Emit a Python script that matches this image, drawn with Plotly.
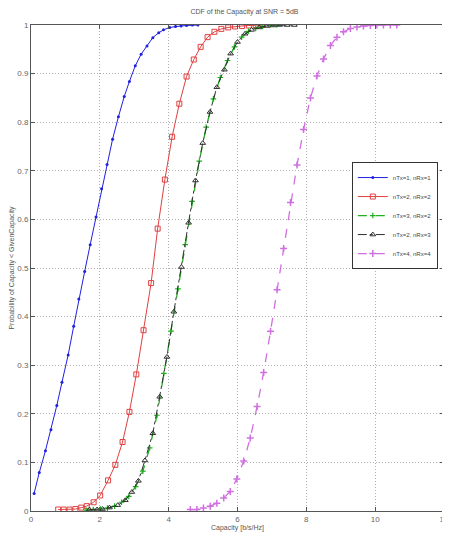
import plotly.graph_objects as go

# Series 1: nTx=1, nRx=1
x1 = [0.09,0.24,0.42,0.58,0.75,0.90,1.08,1.24,1.39,1.56,1.72,1.89,2.05,2.21,2.37,2.54,2.71,2.86,3.03,3.20,3.37,3.54,3.71,3.85,4.03,4.20,4.36,4.52,4.69,4.85]
y1 = [0.036,0.079,0.124,0.167,0.217,0.265,0.321,0.380,0.436,0.493,0.548,0.605,0.663,0.713,0.765,0.811,0.853,0.884,0.916,0.940,0.957,0.974,0.984,0.990,0.995,0.997,0.998,0.999,1.0,1.0]

# Series 2: nTx=2, nRx=2
x2 = [0.79,0.95,1.12,1.29,1.46,1.62,1.82,2.01,2.24,2.45,2.66,2.86,3.06,3.27,3.49,3.68,3.89,4.10,4.31,4.52,4.73,4.93,5.13,5.33,5.53,5.73,5.93,6.13,6.33,6.53,6.73]
y2 = [0.003,0.003,0.003,0.004,0.007,0.010,0.018,0.032,0.063,0.095,0.142,0.204,0.281,0.372,0.469,0.581,0.682,0.770,0.838,0.894,0.929,0.955,0.975,0.986,0.992,0.995,0.997,0.998,0.999,1.0,1.0]

# Series 3: nTx=3, nRx=2
x3 = [1.60,1.81,2.02,2.22,2.43,2.63,2.84,3.04,3.25,3.45,3.66,3.86,4.07,4.27,4.48,4.68,4.89,5.09,5.30,5.50,5.71,5.91,6.12,6.32,6.53,6.73,6.94,7.14]
y3 = [0.002,0.003,0.004,0.006,0.010,0.018,0.030,0.050,0.082,0.130,0.197,0.283,0.370,0.457,0.548,0.637,0.720,0.790,0.848,0.892,0.927,0.955,0.975,0.987,0.993,0.997,0.999,1.0]

# Series 4: nTx=2, nRx=3
x4 = [1.70,1.92,2.08,2.28,2.52,2.74,2.93,3.12,3.31,3.54,3.74,3.95,4.15,4.37,4.58,4.78,4.99,5.20,5.40,5.62,5.80,6.00,6.22,6.41,6.63,6.84,7.03,7.22,7.44,7.65]
y4 = [0.003,0.003,0.004,0.007,0.012,0.022,0.039,0.062,0.104,0.160,0.235,0.317,0.410,0.502,0.593,0.680,0.757,0.821,0.872,0.908,0.941,0.965,0.982,0.990,0.995,0.998,0.999,1.0,1.0,1.0]

# Series 5: nTx=4, nRx=4
x5 = [4.63,4.82,5.01,5.21,5.40,5.60,5.79,5.98,6.18,6.37,6.57,6.76,6.96,7.15,7.34,7.54,7.73,7.92,8.12,8.31,8.50,8.70,8.89,9.08,9.28,9.47,9.66,9.86,10.05,10.24,10.44,10.63]
y5 = [0.003,0.003,0.006,0.010,0.016,0.027,0.040,0.066,0.103,0.150,0.215,0.285,0.370,0.455,0.540,0.635,0.712,0.785,0.850,0.895,0.930,0.958,0.975,0.986,0.993,0.996,0.998,0.999,1.0,1.0,1.0,1.0]

names = ["nTx=1, nRx=1", "nTx=2, nRx=2", "nTx=3, nRx=2", "nTx=2, nRx=3", "nTx=4, nRx=4"]
x_ticks = [0, 2, 4, 6, 8, 10, 12]
y_ticks = [0, 0.1, 0.2, 0.3, 0.4, 0.5, 0.6, 0.7, 0.8, 0.9, 1]
y_ticklabels = ["0", "0.1", "0.2", "0.3", "0.4", "0.5", "0.6", "0.7", "0.8", "0.9", "1"]

fig = go.Figure()
fig.add_trace(go.Scatter(x=x1, y=y1, name=names[0], mode="lines+markers",
                         line=dict(color="#2020e0", width=1),
                         marker=dict(symbol="circle", size=3, color="#2020e0")))
fig.add_trace(go.Scatter(x=x2, y=y2, name=names[1], mode="lines+markers",
                         line=dict(color="#e04040", width=1),
                         marker=dict(symbol="square-open", size=5, color="#e04040", line=dict(width=1))))
fig.add_trace(go.Scatter(x=x3, y=y3, name=names[2], mode="lines+markers",
                         line=dict(color="#20b020", width=1.3, dash="dash"),
                         marker=dict(symbol="cross-thin-open", size=4, color="#20b020", line=dict(width=1.2))))
fig.add_trace(go.Scatter(x=x4, y=y4, name=names[3], mode="lines+markers",
                         line=dict(color="#303030", width=1, dash="dashdot"),
                         marker=dict(symbol="triangle-up-open", size=5, color="#303030", line=dict(width=1))))
fig.add_trace(go.Scatter(x=x5, y=y5, name=names[4], mode="lines+markers",
                         line=dict(color="#d070e0", width=1.3, dash="dash"),
                         marker=dict(symbol="cross-thin-open", size=5, color="#d070e0", line=dict(width=1.5))))

axis_common = dict(showgrid=True, gridcolor="#b0b0b0", griddash="1px,2px", gridwidth=1,
                   showline=True, linecolor="#555555", linewidth=1, mirror="allticks",
                   ticks="inside", ticklen=4, tickcolor="#555555", automargin=False,
                   ticklabeloverflow="allow",
                   tickfont=dict(family="Liberation Sans Narrow, Liberation Sans", size=8, color="#666666"),
                   zeroline=False)

# The page body adds an 8 px margin, so the figure is sized to fill the rest of the window.
fig.update_layout(
    width=442, height=529,
    margin=dict(l=23, r=6, t=17, b=26, autoexpand=False),
    paper_bgcolor="white", plot_bgcolor="white",
    title=dict(text="CDF of the Capacity at SNR = 5dB", x=0.535, xanchor="center",
               y=0.994, yanchor="middle", yref="container", automargin=False,
               font=dict(family="Liberation Sans Narrow, Liberation Sans", size=7, color="#555555")),
    xaxis=dict(range=[0, 12], tickvals=x_ticks, ticktext=[str(v) for v in x_ticks],
               title=dict(text="Capacity [b/s/Hz]", standoff=2,
                          font=dict(family="Liberation Sans Narrow, Liberation Sans", size=7, color="#555555")),
               **axis_common),
    yaxis=dict(range=[0, 1], tickvals=y_ticks, ticktext=y_ticklabels,
               title=dict(text="Probability of Capacity < GivenCapacity", standoff=2,
                          font=dict(family="Liberation Sans", size=7, color="#555555")),
               **axis_common),
    legend=dict(x=0.985, xanchor="right", y=0.718, yanchor="top",
                bgcolor="white", bordercolor="#333333", borderwidth=1,
                font=dict(family="Liberation Sans Narrow, Liberation Sans", size=6, color="#444444"),
                tracegroupgap=0, itemwidth=30),
    showlegend=True,
)

fig.write_html("out.html")
